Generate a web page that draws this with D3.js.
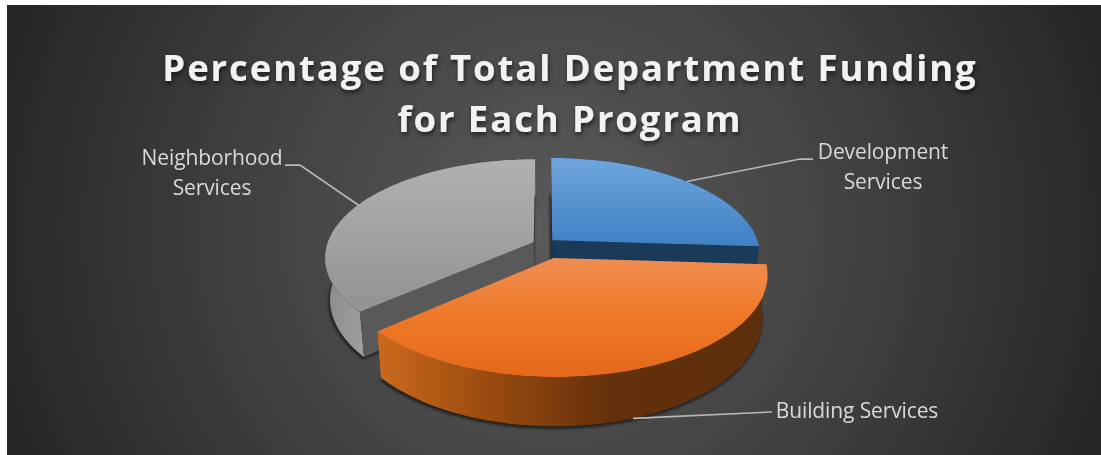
<!DOCTYPE html>
<html>
<head>
<meta charset="utf-8">
<script src="https://cdn.jsdelivr.net/npm/d3@7"></script>
<style>
  html, body { margin: 0; padding: 0; background: #fff; overflow: hidden; }
  svg { display: block; }
  text { font-family: "Open Sans", sans-serif; }
</style>
</head>
<body>
<div id="chart"></div>
<script>
// Program funding shares, percent of department total
const categories = ["Development Services", "Building Services", "Neighborhood Services"];
const shares = [26, 37.6, 36.4];
const titleLines = ["Percentage of Total Department Funding", "for Each Program"];
const labelLines = [["Development", "Services"], ["Building Services"], ["Neighborhood", "Services"]];

// Slice explosion offsets, in units of the disc radius
const pullU = [0.04, 0.046, -0.05];
const pullV = [-0.09, 0.09, -0.07];
// Leader elbows and label anchors
const elbowX = [800, 772, 300];
const elbowY = [159, 412, 165];
const endX = [813, 772, 285];
const labelX = [883, 857, 212];
const labelY = [152, 411, 158];

const W = 1101, H = 455;
const svg = d3.select("#chart").append("svg").attr("width", W).attr("height", H);
const defs = svg.append("defs");

// Tilted disc: perspective projection of the unit disc, z = 1 is the base
const cx = 544, cy = 249, R = 208, K = 97.6, tilt = 0.155, depth = 41, baseShrink = 0.022;
function project(u, v, z) {
  const w = 1 - tilt * v;
  const s = 1 - baseShrink * z;
  return [cx + R * u / w * s, cy + K * v / w + depth * z / w];
}

const bgGrad = defs.append("radialGradient").attr("id", "bg")
  .attr("gradientUnits", "userSpaceOnUse")
  .attr("cx", 554).attr("cy", 230).attr("r", 590);
[[0, "#5a5a5a"], [0.5, "#424242"], [1, "#252525"]].forEach(([o, c]) =>
  bgGrad.append("stop").attr("offset", o).attr("stop-color", c));

function verticalGradient(id, stops) {
  const g = defs.append("linearGradient").attr("id", id)
    .attr("x1", 0).attr("x2", 0).attr("y1", 0).attr("y2", 1);
  stops.forEach(([o, c]) => g.append("stop").attr("offset", o).attr("stop-color", c));
}
verticalGradient("top0", [[0, "#6fa6de"], [1, "#3f80c3"]]);
verticalGradient("top1", [[0, "#ef8d52"], [0.45, "#f07a2a"], [1, "#e4691a"]]);
verticalGradient("top2", [[0, "#b1b1b1"], [1, "#929292"]]);

function horizontalGradient(id, x1, x2, stops) {
  const g = defs.append("linearGradient").attr("id", id)
    .attr("gradientUnits", "userSpaceOnUse")
    .attr("x1", x1).attr("x2", x2).attr("y1", 0).attr("y2", 0);
  stops.forEach(([o, c]) => g.append("stop").attr("offset", o).attr("stop-color", c));
}
horizontalGradient("wall0", 552, 762, [[0, "#1a3a5a"], [1, "#1a3a5a"]]);
horizontalGradient("wall1", 378, 770, [[0, "#cb691d"], [0.3, "#97490f"], [0.6, "#63300b"], [1, "#5c2f0c"]]);
horizontalGradient("wall2", 326, 364, [[0, "#8c8c8c"], [1, "#9f9f9f"]]);
const cutFill = ["#1a3a5a", "#5c2f0c", "#595959"];

const blur = defs.append("filter").attr("id", "soft")
  .attr("x", "-10%").attr("y", "-10%").attr("width", "120%").attr("height", "120%");
blur.append("feGaussianBlur").attr("stdDeviation", 1.8);
const titleShadow = defs.append("filter").attr("id", "titleShadow")
  .attr("x", "-5%").attr("y", "-20%").attr("width", "110%").attr("height", "140%");
titleShadow.append("feDropShadow").attr("dx", 1).attr("dy", 3).attr("stdDeviation", 2)
  .attr("flood-color", "#000").attr("flood-opacity", 0.55);

svg.append("rect").attr("x", 7).attr("y", 5).attr("width", W - 7).attr("height", H - 5).attr("fill", "url(#bg)");

const pie = d3.pie().value(d => d).sort(null);
const arcs = pie(shares);
const line = d3.line().curve(d3.curveLinear);

// Rim position of a slice at angle a (clockwise from the back of the disc)
const rimU = (i, a) => pullU[i] + Math.sin(a);
const rimV = (i, a) => pullV[i] - Math.cos(a);

function rim(i, a0, a1, z) {
  const n = Math.max(2, Math.ceil(Math.abs(a1 - a0) / 0.02));
  return d3.range(n + 1).map(k => {
    const a = a0 + (a1 - a0) * k / n;
    return project(rimU(i, a), rimV(i, a), z);
  });
}

function topPath(i) {
  const d = arcs[i];
  return line([project(pullU[i], pullV[i], 0), ...rim(i, d.startAngle, d.endAngle, 0)]) + "Z";
}
function outerWall(i) {
  const d = arcs[i];
  return line([...rim(i, d.startAngle, d.endAngle, 0), ...rim(i, d.endAngle, d.startAngle, 1)]) + "Z";
}
function cutWall(i, a) {
  const pts = [
    project(pullU[i], pullV[i], 0),
    project(rimU(i, a), rimV(i, a), 0),
    project(rimU(i, a), rimV(i, a), 1),
    project(pullU[i], pullV[i], 1)
  ];
  return line(pts) + "Z";
}
function basePath(i) {
  const d = arcs[i];
  return line([project(pullU[i], pullV[i], 1), ...rim(i, d.startAngle, d.endAngle, 1)]) + "Z";
}

// Soft ground shadow under the slices
const shadows = svg.append("g").attr("filter", "url(#soft)");
arcs.forEach((d, i) => {
  shadows.append("path").attr("d", basePath(i)).attr("fill", "#0c0c0c")
    .attr("transform", "translate(-1,2)").attr("opacity", 0.85);
});

// Back to front: neighborhood, development, building
const slices = svg.append("g");
[2, 0, 1].forEach(i => {
  const d = arcs[i];
  const g = slices.append("g").attr("class", "slice");
  g.append("path").attr("d", outerWall(i)).attr("fill", `url(#wall${i})`);
  if (i === 0) g.append("path").attr("d", cutWall(i, d.endAngle)).attr("fill", cutFill[i]);
  if (i === 2) g.append("path").attr("d", cutWall(i, d.startAngle)).attr("fill", cutFill[i]);
  g.append("path").attr("d", topPath(i)).attr("fill", `url(#top${i})`);
});

// Leader lines start at each slice's mid-angle; the building slice is tagged at its base
const leaders = svg.append("g").attr("fill", "none").attr("stroke", "#b8b8b8").attr("stroke-width", 1.75);
arcs.forEach((d, i) => {
  const mid = (d.startAngle + d.endAngle) / 2;
  const start = project(rimU(i, mid), rimV(i, mid), i === 1 ? 1 : 0);
  leaders.append("path").attr("d", line([start, [elbowX[i], elbowY[i]], [endX[i], elbowY[i]]]));
});

const labels = svg.append("g").attr("fill", "#d9d9d9").attr("font-size", 21).attr("letter-spacing", -0.12).attr("text-anchor", "middle");
labelLines.forEach((lines, i) => {
  lines.forEach((t, k) => {
    labels.append("text").attr("x", labelX[i]).attr("y", labelY[i] + k * 29.5).attr("dy", "0.35em").text(t);
  });
});

const title = svg.append("g").attr("fill", "#f2f2f2").attr("font-size", 36.5).attr("font-weight", 700)
  .attr("text-anchor", "middle").attr("letter-spacing", 1.9).attr("filter", "url(#titleShadow)");
titleLines.forEach((t, k) => {
  title.append("text").attr("x", 570).attr("y", 81 + k * 51).text(t);
});
</script>
</body>
</html>
